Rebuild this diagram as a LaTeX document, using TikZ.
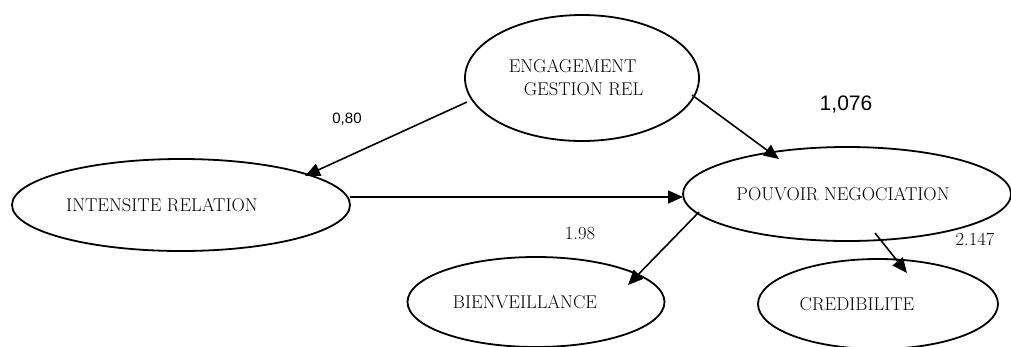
\documentclass[tikz,border=0pt]{standalone}
\usepackage{fontspec}
\newfontfamily\lblsans{Liberation Sans}
\usetikzlibrary{
  calc,positioning,shapes.geometric,
  arrows.meta
}

\tikzset{
  latent/.style={draw=black,line width=1.8pt,ellipse,inner sep=0pt,
    font=\fontsize{18.5}{23}\selectfont},
  link/.style={line width=1.6pt,-{Triangle[length=15pt,width=13pt]}},
  coef/.style={inner sep=0pt,font=\fontsize{18.5}{20}\selectfont},
  coefsans/.style={inner sep=0pt,font=\lblsans\fontsize{15}{17}\selectfont}
}

\begin{document}
\begin{tikzpicture}[x=1pt,y=-1pt]
\useasboundingbox (0,0) rectangle (1011,346);
\clip (0,0) rectangle (1011,346);

% latent variables
\node[latent,minimum width=234pt,minimum height=126pt,align=left] (engagement) at (582,78)
  {ENGAGEMENT\\\hspace*{15pt}GESTION REL\hspace*{12pt}};
\node[latent,minimum width=338pt,minimum height=92pt] (intensite) at (181,205)
  {INTENSITE RELATION\hspace*{38pt}};
\node[latent,minimum width=328pt,minimum height=94pt] (pouvoir) at (847,194)
  {POUVOIR NEGOCIATION\hspace*{8pt}};
\node[latent,minimum width=257pt,minimum height=90pt] (bienveillance) at (536,302)
  {BIENVEILLANCE\hspace*{22pt}};
\node[latent,minimum width=240pt,minimum height=90pt] (credibilite) at (878,304)
  {CREDIBILITE\hspace*{42pt}};

% paths
\draw[link] ($(engagement)+(-115,24)$) -- ($(intensite)+(124,-29)$);
\draw[link] ($(intensite)+(169,-8)$) -- ($(pouvoir)+(-164,3)$);
\draw[link] ($(engagement)+(110,17)$) -- ($(pouvoir)+(-68,-35)$);
\draw[link] ($(pouvoir)+(-148,18)$) -- ($(bienveillance)+(92,-17)$);
\draw[link] ($(pouvoir)+(28,39)$) -- ($(credibilite)+(29,-31)$);

% coefficients
\node[coefsans] (c-eng-int) at (347,119) {0,80};
\node[coefsans,font=\lblsans\fontsize{21}{24}\selectfont] (c-eng-pou) at (846,105) {1,076};
\node[coef] (c-pou-bie) at (580,234) {1.98};
\node[coef] (c-pou-cre) at (975,239) {2.147};
\end{tikzpicture}
\end{document}
